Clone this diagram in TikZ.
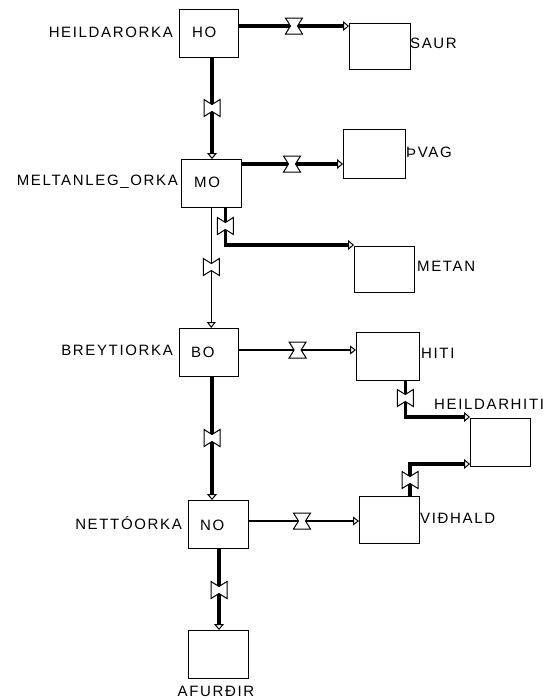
\documentclass[tikz,border=0pt]{standalone}
\usepackage{fontspec}
\setmainfont{Liberation Sans}[LetterSpace=11]
\usetikzlibrary{arrows.meta}
\begin{document}
\begin{tikzpicture}[x=1pt,y=-1pt,
  box/.style={draw,line width=1.3pt,rectangle,inner sep=0pt,anchor=north west},
  lbl/.style={inner sep=0pt,font=\fontsize{15}{15}\selectfont},
  thickflow/.style={line width=3.2pt,-{Triangle[open,length=6pt,width=10pt,line width=1pt]}},
  thinflow/.style={line width=1.3pt,-{Triangle[open,length=6pt,width=9pt,line width=1pt]}},
  valve/.pic={\draw[line width=1pt,fill=white] (-8.5,-8)--(8.5,-8)--(3.5,0)--(8.5,8)--(-8.5,8)--(-3.5,0)--cycle;},
]
\useasboundingbox (0,0) rectangle (554,699);
% boxes
\node[box,minimum width=59pt,minimum height=48pt] (HO) at (179,9) {};
\node[box,minimum width=61pt,minimum height=46pt] (SAUR) at (349,23) {};
\node[box,minimum width=60pt,minimum height=48pt] (MO) at (181,159) {};
\node[box,minimum width=62pt,minimum height=49pt] (PVAG) at (343,129) {};
\node[box,minimum width=60pt,minimum height=46pt] (METAN) at (354,246) {};
\node[box,minimum width=59pt,minimum height=48pt] (BO) at (179,328) {};
\node[box,minimum width=63pt,minimum height=48pt] (HITI) at (356,332) {};
\node[box,minimum width=60pt,minimum height=48pt] (HH) at (470,418) {};
\node[box,minimum width=60pt,minimum height=48pt] (NO) at (188,500) {};
\node[box,minimum width=60pt,minimum height=47pt] (VID) at (359,496) {};
\node[box,minimum width=60pt,minimum height=48pt] (AF) at (188,630) {};
% texts in boxes
\node[lbl,anchor=west] (HOt) at (192,32) {HO};
\node[lbl,anchor=west] (MOt) at (194,182) {MO};
\node[lbl,anchor=west] (BOt) at (191,352) {BO};
\node[lbl,anchor=west] (NOt) at (200,525) {NO};
% labels
\node[lbl,anchor=east] (HOl) at (173,32) {HEILDARORKA};
\node[lbl,anchor=east] (MOl) at (178,182) {MELTANLEG\_ORKA};
\node[lbl,anchor=east] (BOl) at (173,350) {BREYTIORKA};
\node[lbl,anchor=east] (NOl) at (182,523) {NETTÓORKA};
\node[lbl,anchor=west] (SAURl) at (410,43) {SAUR};
\node[lbl,anchor=west] (PVAGl) at (406,152) {ÞVAG};
\node[lbl,anchor=west] (METANl) at (417,266) {METAN};
\node[lbl,anchor=west] (HITIl) at (421,353) {HITI};
\node[lbl,anchor=west] (HHl) at (434,404) {HEILDARHITI};
\node[lbl,anchor=west] (VIDl) at (420,518) {VIÐHALD};
\node[lbl] (AFl) at (216,691) {AFURÐIR};
% connection points
\coordinate (a1) at (HO.east |- 0,26);   \coordinate (a2) at (SAUR.west |- 0,26);
\coordinate (b1) at (212,0 |- HO.south); \coordinate (b2) at (212,0 |- MO.north);
\coordinate (c1) at (MO.east |- 0,164);  \coordinate (c2) at (PVAG.west |- 0,164);
\coordinate (d1) at (225.4,0 |- MO.south); \coordinate (d2) at (METAN.west |- 0,245);
\coordinate (e1) at (211.3,0 |- MO.south); \coordinate (e2) at (211.3,0 |- BO.north);
\coordinate (f1) at (BO.east |- 0,350);  \coordinate (f2) at (HITI.west |- 0,350);
\coordinate (g1) at (212,0 |- BO.south); \coordinate (g2) at (212,0 |- NO.north);
\coordinate (h1) at (405.3,0 |- HITI.south); \coordinate (h2) at (HH.west |- 0,417);
\coordinate (i1) at (410,0 |- VID.north); \coordinate (i2) at (HH.west |- 0,464);
\coordinate (j1) at (NO.east |- 0,521);  \coordinate (j2) at (VID.west |- 0,521);
\coordinate (k1) at (219,0 |- NO.south); \coordinate (k2) at (219,0 |- AF.north);
% flows
\draw[thickflow] (a1) -- (a2);
\draw[thickflow] (b1) -- (b2);
\draw[thickflow] (c1) -- (c2);
\draw[thickflow] (d1) |- (d2);
\draw[thinflow] (e1) -- (e2);
\draw[thinflow] (f1) -- (f2);
\draw[thickflow] (g1) -- (g2);
\draw[thickflow] (h1) |- (h2);
\draw[thickflow] (i1) |- (i2);
\draw[thinflow] (j1) -- (j2);
\draw[thickflow] (k1) -- (k2);
% valves
\pic at (294,26) {valve};
\pic[rotate=90] at (212,108) {valve};
\pic at (292,164) {valve};
\pic[rotate=90] at (225.4,226) {valve};
\pic[rotate=90] at (211.3,267) {valve};
\pic at (297.6,350) {valve};
\pic[rotate=90] at (212,438) {valve};
\pic[rotate=90] at (405.3,398) {valve};
\pic[rotate=90] at (410,480) {valve};
\pic at (302,521) {valve};
\pic[rotate=90] at (219,590) {valve};
\end{tikzpicture}
\end{document}
